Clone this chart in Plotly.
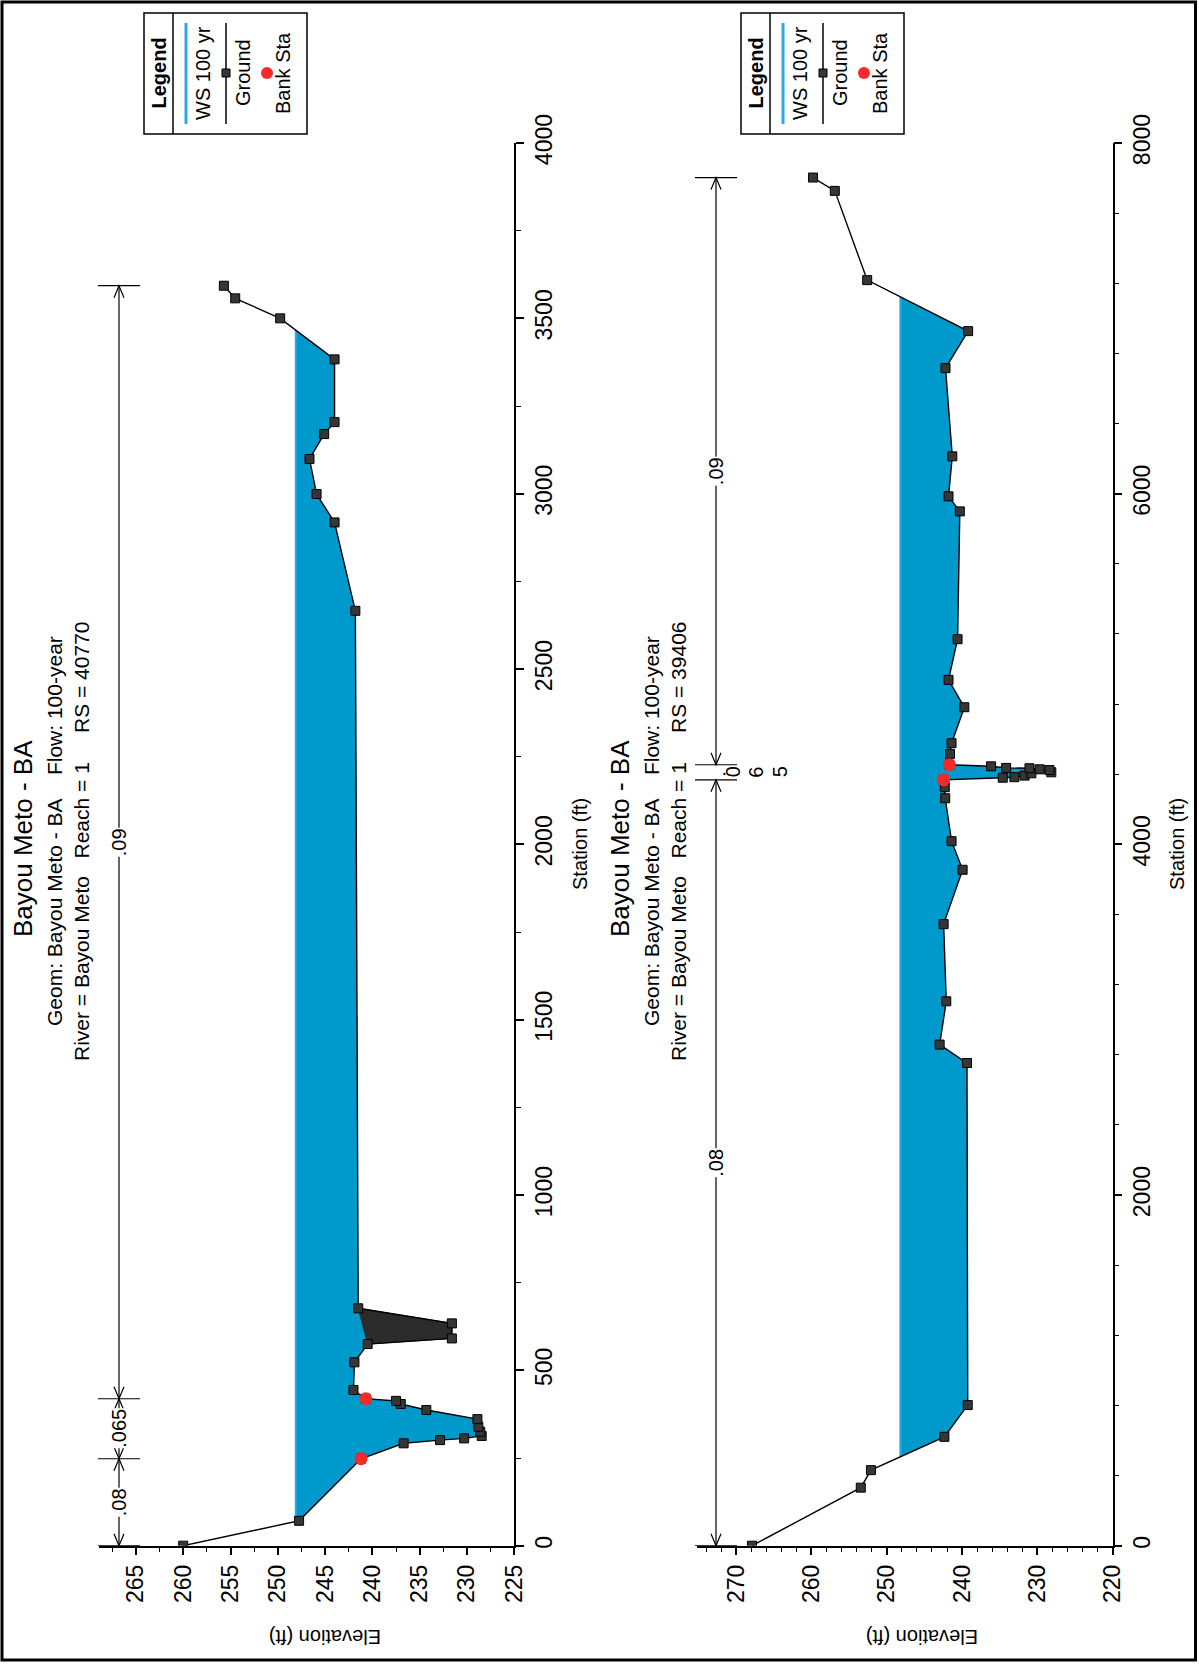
import numpy as np
import plotly.graph_objects as go

W, H = 1199, 1669

# ---------------- data: upper panel (RS 40770) ----------------
top_station = [0, 71, 248, 292, 301, 306, 313, 325, 339, 361, 387, 404, 413, 419, 444, 523,
               575, 591, 634, 677, 2666, 2918, 2999, 3099, 3170, 3204, 3383, 3500, 3557, 3593]
top_ground = [260.0, 247.75, 241.2, 236.7, 232.85, 230.3, 228.45, 228.6, 228.8, 228.9, 234.3, 237.0,
              237.5, 240.7, 242.0, 241.9, 240.5, 231.6, 231.6, 241.5, 241.8, 244.0, 245.9, 246.65,
              245.1, 244.0, 244.0, 249.75, 254.5, 255.7]
top_ws = 248.1
top_bank_station = [248, 419]
top_bank_elev = [241.2, 240.7]
top_dark_span = [575, 677]
top_n_station = [0, 248, 419, 3593]
top_n_values = [".08", ".065", ".09"]
top_subtitle = "River = Bayou Meto\u00a0\u00a0\u00a0Reach = 1\u00a0\u00a0\u00a0\u00a0\u00a0RS = 40770"

# ---------------- data: lower panel (RS 39406) ----------------
bot_station = [0, 331, 431, 621, 802, 2753, 2858, 3105, 3545, 3855, 4018, 4263, 4326, 4368, 4380,
               4383, 4392, 4405, 4411, 4424, 4428, 4434, 4436, 4445, 4454, 4516, 4577, 4782, 4938,
               5170, 5899, 5985, 6213, 6716, 6927, 7218, 7727, 7803]
bot_ground = [267.9, 253.45, 252.1, 242.35, 239.25, 239.35, 242.98, 242.1, 242.45, 239.93, 241.4,
              242.24, 242.3, 242.45, 234.6, 233.05, 231.7, 230.8, 228.15, 228.4, 229.7, 231.05,
              234.15, 236.15, 241.7, 241.6, 241.4, 239.7, 241.8, 240.6, 240.3, 241.8, 241.3, 242.2,
              239.2, 252.6, 256.9, 259.8]
bot_ws = 248.2
bot_bank_station = [4368, 4454]
bot_bank_elev = [242.45, 241.7]
bot_dark_span = None
bot_n_station = [0, 4368, 4454, 7803]
bot_n_values = [".08", ".065", ".09"]
bot_subtitle = "River = Bayou Meto\u00a0\u00a0\u00a0Reach = 1\u00a0\u00a0\u00a0\u00a0\u00a0RS = 39406"

title_text = "Bayou Meto - BA"
geom_text = "Geom: Bayou Meto - BA\u00a0\u00a0\u00a0\u00a0Flow: 100-year"

# axis settings
top_elev_range = [268.9, 225]
top_elev_dtick, top_elev_minor = 5, 2.5
top_sta_range = [0, 4000]
top_sta_dtick, top_sta_minor = 500, 250
bot_elev_range = [275.2, 220]
bot_elev_dtick, bot_elev_minor = 10, 2
bot_sta_range = [0, 8000]
bot_sta_dtick, bot_sta_minor = 2000, 400

# ---------------- layout constants (pixels) ----------------
Y_BOTTOM, Y_TOP = 1545.7, 143.0
panels = [
    dict(x0=99, x1=514.3, xa="x", ya="y"),
    dict(x0=697, x1=1112.7, xa="x2", ya="y2"),
]
DX = 597  # horizontal offset between the two panels

FONT = "Liberation Sans, Arial, sans-serif"
TICKFONT = "Liberation Sans, Arial, sans-serif"
BLUE_FILL = "#0099CC"
WS_LINE = "#2AAAE6"
RED = "#F42A2A"


def px(x):
    return x / W


def py(y):
    return 1 - y / H


fig = go.Figure()
shapes = []
annotations = []


def ann(text, x, y, size, angle=-90, bold=False, xref="paper", yref="paper", **kw):
    if bold:
        text = "<b>" + text + "</b>"
    d = dict(text=text, x=x, y=y, xref=xref, yref=yref, showarrow=False, textangle=angle,
             font=dict(family=FONT, size=size, color="black"), xanchor="center", yanchor="middle")
    d.update(kw)
    annotations.append(d)


def wet_sections(sta, elev, ws):
    sections = []
    cur = None
    for i in range(len(sta)):
        s, e = sta[i], elev[i]
        if i > 0:
            s0, e0 = sta[i - 1], elev[i - 1]
            if (e0 - ws) * (e - ws) < 0:
                sc = s0 + (ws - e0) / (e - e0) * (s - s0)
                if e < ws:
                    cur = [(ws, sc)]
                else:
                    cur.append((ws, sc))
                    sections.append(cur)
                    cur = None
        if e < ws:
            if cur is None:
                cur = [(ws, s)]
            cur.append((e, s))
    if cur is not None:
        cur.append((ws, cur[-1][1]))
        sections.append(cur)
    return sections


datasets = [
    dict(sta=top_station, g=top_ground, ws=top_ws, bs=top_bank_station, be=top_bank_elev,
         dark=top_dark_span, nst=top_n_station, nv=top_n_values, sub=top_subtitle,
         er=top_elev_range, ed=top_elev_dtick, em=top_elev_minor,
         sr=top_sta_range, sd=top_sta_dtick, sm=top_sta_minor),
    dict(sta=bot_station, g=bot_ground, ws=bot_ws, bs=bot_bank_station, be=bot_bank_elev,
         dark=bot_dark_span, nst=bot_n_station, nv=bot_n_values, sub=bot_subtitle,
         er=bot_elev_range, ed=bot_elev_dtick, em=bot_elev_minor,
         sr=bot_sta_range, sd=bot_sta_dtick, sm=bot_sta_minor),
]

layout_axes = {}
for k, (p, d) in enumerate(zip(panels, datasets)):
    xa, ya = p["xa"], p["ya"]
    for sec in wet_sections(d["sta"], d["g"], d["ws"]):
        xs = [q[0] for q in sec] + [sec[0][0]]
        ys = [q[1] for q in sec] + [sec[0][1]]
        fig.add_trace(go.Scatter(x=xs, y=ys, xaxis=xa, yaxis=ya, mode="lines", fill="toself",
                                 fillcolor=BLUE_FILL, line=dict(width=0), hoverinfo="skip",
                                 showlegend=False))
        fig.add_trace(go.Scatter(x=[d["ws"], d["ws"]], y=[sec[0][1], sec[-1][1]], xaxis=xa, yaxis=ya,
                                 mode="lines", line=dict(color=WS_LINE, width=2), showlegend=False))
    if d["dark"] is not None:
        idx = [i for i, s in enumerate(d["sta"]) if d["dark"][0] <= s <= d["dark"][1]]
        xs = [d["g"][i] for i in idx] + [d["g"][idx[0]]]
        ys = [d["sta"][i] for i in idx] + [d["sta"][idx[0]]]
        fig.add_trace(go.Scatter(x=xs, y=ys, xaxis=xa, yaxis=ya, mode="lines", fill="toself",
                                 fillcolor="#2B2B2B", line=dict(color="#2B2B2B", width=1),
                                 showlegend=False))
    fig.add_trace(go.Scatter(x=d["g"], y=d["sta"], xaxis=xa, yaxis=ya, mode="lines+markers",
                             line=dict(color="black", width=1.4),
                             marker=dict(symbol="square", size=9, color="#363636",
                                         line=dict(color="black", width=1)),
                             showlegend=False))
    fig.add_trace(go.Scatter(x=d["be"], y=d["bs"], xaxis=xa, yaxis=ya, mode="markers",
                             marker=dict(symbol="circle", size=13, color=RED, line=dict(width=0)),
                             showlegend=False))

    xkey = "xaxis" if k == 0 else "xaxis2"
    ykey = "yaxis" if k == 0 else "yaxis2"
    layout_axes[xkey] = dict(
        domain=[px(p["x0"]), px(p["x1"])], range=d["er"], anchor=ya, automargin=False,
        showline=True, linecolor="black", linewidth=1.5, mirror=False,
        ticks="outside", ticklen=8, tickwidth=1.5, tickcolor="black",
        tick0=d["er"][1], dtick=d["ed"], tickangle=-90,
        tickfont=dict(family=TICKFONT, size=23, color="black"),
        minor=dict(ticks="outside", ticklen=5, tickwidth=1.2, tickcolor="black",
                   tick0=d["er"][1], dtick=d["em"], showgrid=False),
        showgrid=False, zeroline=False, fixedrange=True)
    layout_axes[ykey] = dict(
        domain=[py(Y_BOTTOM), py(Y_TOP)], range=d["sr"], anchor=xa, side="right", automargin=False,
        showline=True, linecolor="black", linewidth=1.5,
        ticks="outside", ticklen=8, tickwidth=1.5, tickcolor="black",
        tick0=0, dtick=d["sd"], tickangle=-90,
        tickfont=dict(family=TICKFONT, size=23, color="black"),
        minor=dict(ticks="outside", ticklen=5, tickwidth=1.2, tickcolor="black",
                   tick0=0, dtick=d["sm"], showgrid=False),
        showgrid=False, zeroline=False, fixedrange=True)

    off = DX * k
    ann(title_text, px(23 + off), py(839), 26)
    ann(geom_text, px(54 + off), py(831), 21)
    ann(d["sub"], px(82 + off), py(841), 21)
    ann("Station (ft)", px(580 + off), py(844), 20)
    ann("Elevation (ft)", px(325 + off), py(1637), 20, angle=180)

    lx = 144 + off
    shapes.append(dict(type="rect", xref="paper", yref="paper", x0=px(lx), x1=px(lx + 163),
                       y0=py(13), y1=py(134), line=dict(color="black", width=1.5)))
    shapes.append(dict(type="line", xref="paper", yref="paper", x0=px(lx + 29), x1=px(lx + 29),
                       y0=py(13), y1=py(134), line=dict(color="black", width=1.5)))
    ann("Legend", px(lx + 14.5), py(73), 20, bold=True)
    shapes.append(dict(type="line", xref="paper", yref="paper", x0=px(lx + 42), x1=px(lx + 42),
                       y0=py(23), y1=py(124), line=dict(color=WS_LINE, width=3)))
    ann("WS 100 yr", px(lx + 59), py(73), 20)
    shapes.append(dict(type="line", xref="paper", yref="paper", x0=px(lx + 82), x1=px(lx + 82),
                       y0=py(23), y1=py(124), line=dict(color="black", width=1.5)))
    shapes.append(dict(type="rect", xref="paper", yref="paper", x0=px(lx + 78), x1=px(lx + 86),
                       y0=py(69), y1=py(77), fillcolor="#363636", line=dict(color="black", width=1)))
    ann("Ground", px(lx + 99), py(73), 20)
    shapes.append(dict(type="circle", xref="paper", yref="paper", x0=px(lx + 117), x1=px(lx + 129),
                       y0=py(67), y1=py(79), fillcolor=RED, line=dict(width=0)))
    ann("Bank Sta", px(lx + 139), py(73), 20)

    xline = 119 + off
    bar0, bar1 = 98 + off, 140 + off
    pps = (Y_BOTTOM - Y_TOP) / (d["sr"][1] - d["sr"][0])
    L = 12 / pps
    hw = 5
    for s in d["nst"]:
        shapes.append(dict(type="line", xref="paper", yref=ya, x0=px(bar0), x1=px(bar1), y0=s, y1=s,
                           line=dict(color="black", width=1.2)))
    for i, val in enumerate(d["nv"]):
        a, b = d["nst"][i], d["nst"][i + 1]
        seg_px = (b - a) * pps
        mid = (a + b) / 2
        if seg_px > 30:
            shapes.append(dict(type="line", xref="paper", yref=ya, x0=px(xline), x1=px(xline),
                               y0=a, y1=b, line=dict(color="black", width=1.2)))
            for v, dr in ((a, -1), (b, 1)):
                path = "M {},{} L {},{} L {},{}".format(px(xline - hw), v - dr * L, px(xline), v,
                                                      px(xline + hw), v - dr * L)
                shapes.append(dict(type="path", xref="paper", yref=ya, path=path,
                                   line=dict(color="black", width=1.2)))
            ann(val, px(xline), mid, 20, yref=ya, bgcolor="white", borderpad=0)
        else:
            chars = list(val)
            ann("\u00b7", px(xline + 9), mid, 20, angle=0, yref=ya)
            for j, ch in enumerate(chars[1:]):
                ann(ch, px(xline + 17 + 23.5 * j), mid, 20, yref=ya)

# page border
shapes.append(dict(type="rect", xref="paper", yref="paper", x0=px(2), x1=px(1195.5), y0=py(1660),
                   y1=py(2), line=dict(color="black", width=3)))

fig.update_layout(width=W, height=H, margin=dict(l=0, r=0, t=0, b=0, pad=0, autoexpand=False),
                  paper_bgcolor="white", plot_bgcolor="white", showlegend=False,
                  shapes=shapes, annotations=annotations, **layout_axes)

# pin the figure to the top-left corner of the window (no page margins / scroll area)
pin = ("document.body.style.margin='0';"
       "var gd=document.getElementById('{plot_id}');"
       "gd.style.position='fixed';gd.style.left='0px';gd.style.top='0px';")
fig.write_html("out.html", post_script=pin, config={"displayModeBar": False})
